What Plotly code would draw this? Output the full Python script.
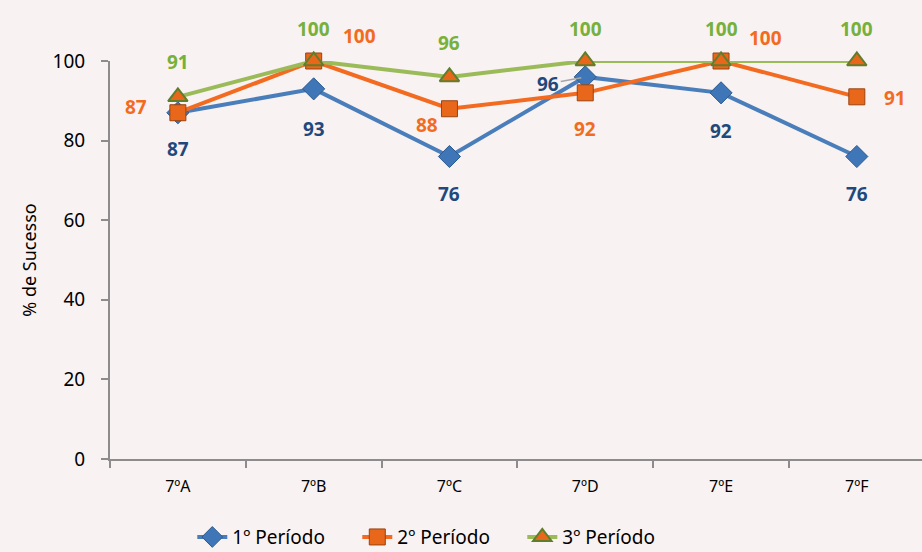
import plotly.graph_objects as go

turmas = ["7ºA", "7ºB", "7ºC", "7ºD", "7ºE", "7ºF"]
periodo1 = [87, 93, 76, 96, 92, 76]
periodo2 = [87, 100, 88, 92, 100, 91]
periodo3 = [91, 100, 96, 100, 100, 100]
nomes = ["1º Período", "2º Período", "3º Período"]
y_ticks = [0, 20, 40, 60, 80, 100]

# label offsets (px) per point for each series
off1 = [(0, -36), (0, -40), (0, -37), (-37, -7), (0, -38), (0, -37)]
off2 = [(-42, 6), (46, 25), (-22, -16), (0, -36), (44, 23), (38, -1)]
off3 = [(0, 35), (0, 32), (0, 34), (0, 32), (0, 32), (0, 32)]

bg = "#f8f2f2"
fig = go.Figure()

series = [
    (periodo1, nomes[0], "#4a7ebb", dict(symbol="diamond", size=17, color="#3f76b8",
                                          line=dict(color="#2d5a8e", width=1)), "#1f497d", off1),
    (periodo2, nomes[1], "#f26b21", dict(symbol="square", size=16, color="#e8671a",
                                          line=dict(color="#9a4310", width=1)), "#f26b21", off2),
    (periodo3, nomes[2], "#9bbb59", dict(symbol="triangle-up", size=17, color="#e8671a",
                                          line=dict(color="#5f7e2c", width=2)), "#77b03a", off3),
]

for vals, name, lc, mk, tc, offs in series:
    fig.add_trace(go.Scatter(
        x=turmas, y=vals, name=name, mode="lines+markers",
        line=dict(color=lc, width=4), marker=mk, cliponaxis=False,
    ))
    for i, (t, v) in enumerate(zip(turmas, vals)):
        dx, dy = offs[i]
        if name == nomes[0] and t == "7ºD":
            fig.add_annotation(x=t, y=v, text=f"<b>{v}</b>", showarrow=True,
                               arrowhead=0, arrowcolor="#a6a6a6", arrowwidth=1.5,
                               ax=dx, ay=-dy, standoff=4,
                               font=dict(color=tc, size=19, family="Noto Sans"))
        else:
            fig.add_annotation(x=t, y=v, text=f"<b>{v}</b>", showarrow=False,
                               xshift=dx, yshift=dy,
                               font=dict(color=tc, size=19, family="Noto Sans"))

fig.update_layout(
    width=922, height=552,
    paper_bgcolor=bg, plot_bgcolor=bg,
    margin=dict(l=110, r=0, t=61, b=93),
    font=dict(family="Noto Sans", color="#000000"),
    showlegend=True,
    legend=dict(orientation="h", xref="container", x=0.477, xanchor="center",
                yref="container", y=0.027, yanchor="middle",
                font=dict(size=19, color="#000000"), entrywidth=120),
)
fig.update_xaxes(
    type="category", range=[-0.5, 5.48],
    showline=True, linecolor="#8c8c8c", linewidth=2,
    ticks="outside", tickson="boundaries", ticklen=7, tickcolor="#8c8c8c", tickwidth=2,
    showgrid=False, zeroline=False, ticklabelstandoff=12,
    tickfont=dict(size=16, color="#000000"),
)
fig.update_yaxes(
    range=[0, 100], tickvals=y_ticks,
    showline=True, linecolor="#8c8c8c", linewidth=2,
    ticks="outside", ticklen=7, tickcolor="#8c8c8c", tickwidth=2,
    showgrid=False, zeroline=False, ticklabelstandoff=12,
    tickfont=dict(size=19, color="#000000"),
    title=dict(text="% de Sucesso", font=dict(size=18, color="#000000"), standoff=11),
)

fig.write_html("out.html")
